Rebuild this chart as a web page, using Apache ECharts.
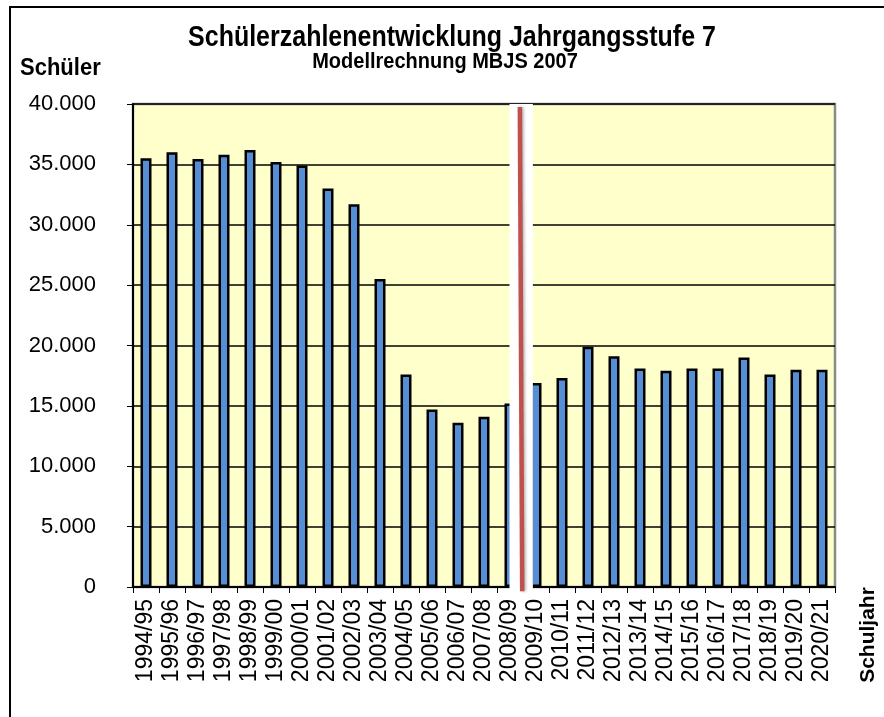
<!DOCTYPE html>
<html>
<head>
<meta charset="utf-8">
<script src="https://cdn.jsdelivr.net/npm/echarts@6/dist/echarts.min.js"></script>
<style>
html,body{margin:0;padding:0;background:#fff;}
#chart{width:884px;height:717px;}
</style>
</head>
<body>
<div id="chart"></div>
<script>
var categories = ["1994/95","1995/96","1996/97","1997/98","1998/99","1999/00","2000/01","2001/02","2002/03","2003/04","2004/05","2005/06","2006/07","2007/08","2008/09","2009/10","2010/11","2011/12","2012/13","2013/14","2014/15","2015/16","2016/17","2017/18","2018/19","2019/20","2020/21"];
var schueler = [35500,36000,35450,35800,36200,35200,34900,33000,31700,25500,17600,14700,13600,14100,15200,16900,17300,19900,19100,18100,17900,18100,18100,19000,17600,18000,18000];
var yTicks = {min:0, max:40000, interval:5000};
var titleText = "Schülerzahlenentwicklung Jahrgangsstufe 7";
var subtitleText = "Modellrechnung MBJS 2007";
var yName = "Schüler";
var xName = "Schuljahr";
// break marker (in category units) between 2008/09 and 2009/10: [x0, x1, yBottom, yTop]
var breakBand = [[14.48, 15.38, -500, 40000]];
// red break line: [xTop, yTop, xBottom, yBottom]
var breakLine = [[14.88, 39750, 14.97, -350]];

var FONT = '"Liberation Sans", Arial, sans-serif';
var chart = echarts.init(document.getElementById('chart'), null, {renderer:'canvas'});
function fmt(v){ return String(v).replace(/\B(?=(\d{3})+(?!\d))/g, '.'); }

chart.setOption({
  animation:false,
  backgroundColor:'#ffffff',
  graphic:[
    {type:'rect', shape:{x:10, y:7, width:900, height:730}, style:{fill:'none', stroke:'#000', lineWidth:2}, silent:true},
    {type:'text', x:452, y:38, scaleY:1.15, style:{text:titleText, font:'bold 25px "Liberation Sans", Arial', fill:'#000', textAlign:'center', textVerticalAlign:'middle'}},
    {type:'text', x:445, y:62, scaleY:1.1, style:{text:subtitleText, font:'bold 20px "Liberation Sans", Arial', fill:'#000', textAlign:'center', textVerticalAlign:'middle'}},
    {type:'text', x:20, y:68, scaleY:1.1, style:{text:yName, font:'bold 22px "Liberation Sans", Arial', fill:'#000', textAlign:'left', textVerticalAlign:'middle'}},
    {type:'text', x:868, y:635, rotation:Math.PI/2, style:{text:xName, font:'bold 21px "Liberation Sans", Arial', fill:'#000', textAlign:'center', textVerticalAlign:'middle'}}
  ],
  grid:{left:133, top:104, right:49, bottom:130, show:true, backgroundColor:'#FFFFCC', borderColor:'#8a8a8a', borderWidth:2.5},
  xAxis:[
    {type:'category', data:categories, boundaryGap:true,
     axisLine:{lineStyle:{color:'#000', width:2}},
     axisTick:{show:true, alignWithLabel:false, length:6, lineStyle:{color:'#000', width:1}},
     axisLabel:{rotate:90, fontFamily:FONT, fontSize:23, color:'#000', margin:12, interval:0}},
    {type:'value', min:0, max:categories.length, show:false}
  ],
  yAxis:{type:'value', min:yTicks.min, max:yTicks.max, interval:yTicks.interval,
    axisLine:{show:true, lineStyle:{color:'#000', width:2}},
    axisTick:{show:true, length:6, lineStyle:{color:'#000', width:1}},
    axisLabel:{fontFamily:FONT, fontSize:22, color:'#000', margin:37, formatter:fmt},
    splitLine:{lineStyle:{color:'#000', width:1.5}}
  },
  series:[
    {type:'bar', data:schueler, barWidth:11, xAxisIndex:0,
     itemStyle:{color:'#558ED5', borderColor:'#000', borderWidth:2.5}},
    {type:'custom', xAxisIndex:1, z:5, silent:true, clip:false, data:breakBand,
     renderItem:function(params, api){
       var p0 = api.coord([api.value(0), api.value(3)]);
       var p1 = api.coord([api.value(1), api.value(2)]);
       return {type:'rect', shape:{x:p0[0], y:p0[1], width:p1[0]-p0[0], height:p1[1]-p0[1]},
               style:{fill:'#ffffff', stroke:null}};
     }},
    {type:'custom', xAxisIndex:1, z:6, silent:true, clip:false, data:breakLine,
     renderItem:function(params, api){
       var a = api.coord([api.value(0), api.value(1)]);
       var b = api.coord([api.value(2), api.value(3)]);
       return {type:'line', shape:{x1:a[0], y1:a[1], x2:b[0], y2:b[1]},
               style:{stroke:'#C0504D', lineWidth:4.5, shadowColor:'rgba(0,0,0,0.3)', shadowBlur:3, shadowOffsetX:1.5}};
     }}
  ]
});
</script>
</body>
</html>
